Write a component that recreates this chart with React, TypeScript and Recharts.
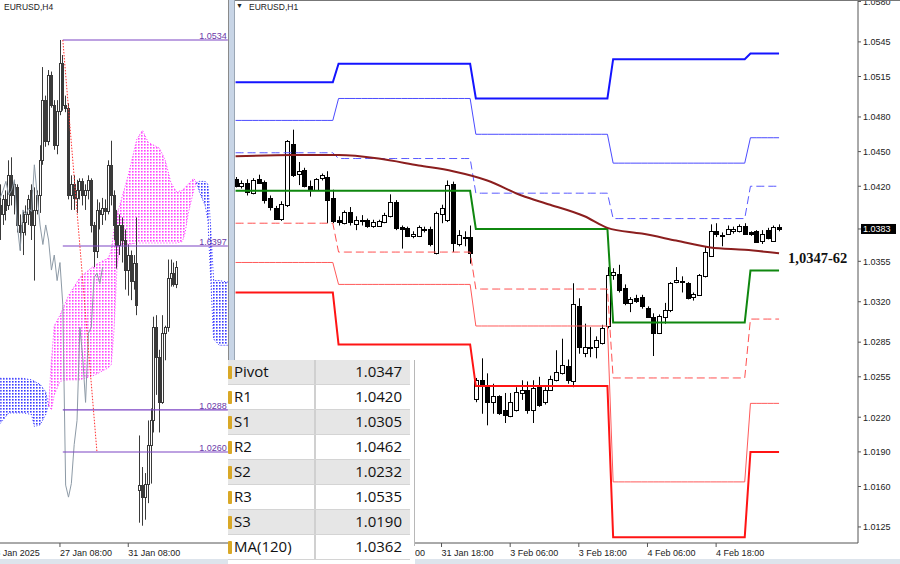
import React from "react";
import {
  ComposedChart,
  Bar,
  Line,
  Area,
  XAxis,
  YAxis,
  ReferenceLine,
} from "recharts";

const FONT = "'Liberation Sans', Arial, sans-serif";

// ---------- H1 panel (right) : 30 Jan 06:00 .. 5 Feb 05:00 ----------
const h1Open = [
  1.0426, 1.042, 1.0423, 1.0414, 1.0426, 1.0424, 1.041, 1.0401, 1.0392, 1.0404,
  1.0457, 1.0431, 1.0434, 1.042, 1.0417, 1.0427, 1.0428, 1.041, 1.0391, 1.0388,
  1.0398, 1.0387, 1.0391, 1.0391, 1.0386, 1.0386, 1.0389, 1.0394, 1.0406, 1.0385,
  1.0384, 1.0377, 1.0377, 1.0383, 1.0383, 1.0362, 1.0396, 1.0391, 1.0422, 1.037,
  1.0376, 1.0376, 1.0236, 1.0252, 1.0247, 1.0233, 1.0238, 1.0226, 1.0221, 1.0226,
  1.0241, 1.0244, 1.0226, 1.0246, 1.0233, 1.0244, 1.0252, 1.0258, 1.0264, 1.0251,
  1.0316, 1.0276, 1.0281, 1.0281, 1.0284, 1.0299, 1.0343, 1.0344, 1.0332, 1.0319,
  1.0323, 1.0324, 1.0315, 1.0307, 1.0293, 1.0307, 1.0313, 1.0337, 1.0338, 1.0336,
  1.0324, 1.0326, 1.0342, 1.036, 1.0381, 1.0378, 1.0379, 1.0381, 1.0381, 1.0386,
  1.038, 1.0381, 1.0373, 1.0382, 1.0373, 1.0385,
];
const h1High = [
  1.0428, 1.0425, 1.0426, 1.0427, 1.043, 1.0425, 1.0412, 1.0403, 1.0407, 1.046,
  1.0469, 1.0441, 1.0436, 1.0425, 1.0427, 1.0431, 1.0433, 1.0417, 1.0394, 1.0399,
  1.0402, 1.0394, 1.0395, 1.0392, 1.0391, 1.0391, 1.0397, 1.0413, 1.0408, 1.0386,
  1.0385, 1.0381, 1.0386, 1.0385, 1.0385, 1.0398, 1.0404, 1.0425, 1.0424, 1.0382,
  1.0381, 1.0386, 1.0254, 1.0271, 1.0258, 1.0249, 1.0239, 1.0241, 1.0241, 1.0246,
  1.0252, 1.0251, 1.0252, 1.0255, 1.0246, 1.0256, 1.0278, 1.0288, 1.027, 1.0336,
  1.0323, 1.0301, 1.0298, 1.029, 1.03, 1.035, 1.0349, 1.0352, 1.0335, 1.0324,
  1.0326, 1.0326, 1.0316, 1.031, 1.0309, 1.0319, 1.0337, 1.035, 1.0342, 1.0337,
  1.0328, 1.0344, 1.0368, 1.0387, 1.0388, 1.038, 1.0386, 1.0385, 1.0387, 1.0388,
  1.0381, 1.0382, 1.0382, 1.0384, 1.0386, 1.0387,
];
const h1Low = [
  1.0419, 1.0418, 1.0412, 1.0413, 1.0422, 1.0405, 1.0399, 1.0391, 1.039, 1.0402,
  1.0428, 1.0421, 1.0419, 1.0411, 1.0416, 1.0425, 1.0388, 1.0388, 1.0386, 1.0387,
  1.0386, 1.0382, 1.0386, 1.0384, 1.0384, 1.0385, 1.0388, 1.0393, 1.0382, 1.0366,
  1.0376, 1.0375, 1.0376, 1.038, 1.0368, 1.0361, 1.0388, 1.0389, 1.0363, 1.0368,
  1.0368, 1.0353, 1.0233, 1.0223, 1.0213, 1.0223, 1.0222, 1.0215, 1.022, 1.0225,
  1.0235, 1.0223, 1.0215, 1.0229, 1.0231, 1.0243, 1.0251, 1.0257, 1.0249, 1.0246,
  1.0275, 1.0272, 1.0272, 1.0271, 1.0283, 1.0297, 1.0339, 1.0328, 1.0317, 1.0311,
  1.0319, 1.0314, 1.0306, 1.0273, 1.0292, 1.0301, 1.0311, 1.0336, 1.0328, 1.0322,
  1.0321, 1.0325, 1.0341, 1.0359, 1.0376, 1.0368, 1.0378, 1.0379, 1.038, 1.0378,
  1.0377, 1.0371, 1.037, 1.0374, 1.0372, 1.0381,
];
const h1Close = [
  1.042, 1.0423, 1.0415, 1.0425, 1.0423, 1.0408, 1.0402, 1.0392, 1.0405, 1.0459,
  1.043, 1.0433, 1.042, 1.0418, 1.0426, 1.043, 1.0408, 1.039, 1.0389, 1.0398,
  1.0389, 1.0391, 1.039, 1.0386, 1.0389, 1.039, 1.0395, 1.0406, 1.0384, 1.0383,
  1.0377, 1.0379, 1.0385, 1.0382, 1.037, 1.0397, 1.0401, 1.0421, 1.0371, 1.0378,
  1.0375, 1.0362, 1.0252, 1.0247, 1.0233, 1.0238, 1.0224, 1.0222, 1.0233, 1.0242,
  1.0244, 1.0226, 1.0245, 1.0231, 1.0244, 1.0253, 1.0259, 1.0265, 1.0252, 1.0318,
  1.0281, 1.0281, 1.028, 1.0287, 1.0297, 1.0343, 1.0346, 1.033, 1.0319, 1.0322,
  1.0321, 1.0316, 1.0307, 1.0293, 1.0308, 1.0313, 1.0336, 1.0339, 1.0337, 1.0323,
  1.0327, 1.0343, 1.0363, 1.0381, 1.0379, 1.0377, 1.0383, 1.0383, 1.0386, 1.0379,
  1.0379, 1.0372, 1.0379, 1.0375, 1.0385, 1.0383,
];

// 30 Jan labels sit under the pivot table in the original, only these show
const h1TickIdx = [24, 36, 48, 60, 72, 84];
const h1TickLabels = [
  "31 Jan 06:00", "31 Jan 18:00", "3 Feb 06:00",
  "3 Feb 18:00", "4 Feb 06:00", "4 Feb 18:00",
];

// daily pivot levels (30 Jan, 31 Jan, 3 Feb, 4 Feb, 5 Feb)
const dayStart = [0, 18, 42, 66, 90];
const levelR3 = [1.051, 1.0526, 1.0496, 1.053, 1.0535];
const levelR2 = [1.0477, 1.0496, 1.0465, 1.044, 1.0462];
const levelR1 = [1.0449, 1.0444, 1.0414, 1.0392, 1.042];
const levelP = [1.0416, 1.0416, 1.0383, 1.0302, 1.0347];
const levelS1 = [1.0388, 1.0363, 1.0331, 1.0254, 1.0305];
const levelS2 = [1.0354, 1.0335, 1.0299, 1.0164, 1.0232];
const levelS3 = [1.0328, 1.0283, 1.0247, 1.0116, 1.019];

const maIdx = [0, 10, 18, 25, 32, 38, 44, 50, 55, 61, 65, 71, 77, 83, 89, 95];
const maVal = [
  1.0446, 1.0447, 1.0447, 1.0444, 1.0438, 1.0433, 1.0425, 1.0412,
  1.0404, 1.0394, 1.0384, 1.0379, 1.0373, 1.0367, 1.0365, 1.0362,
];

const priceTicks = [
  1.0125, 1.016, 1.019, 1.022, 1.0255, 1.0285, 1.032, 1.0355, 1.0383,
  1.042, 1.045, 1.048, 1.0515, 1.0545, 1.058,
];
const lastPrice = 1.0383;

const tableNames = ["Pivot", "R1", "S1", "R2", "S2", "R3", "S3", "MA(120)"];
const tableValues = ["1.0347", "1.0420", "1.0305", "1.0462", "1.0232", "1.0535", "1.0190", "1.0362"];

// ---------- H4 panel (left) ----------
const h4Open = [
  1.0424, 1.0418, 1.0428, 1.0424, 1.0444, 1.0431, 1.0436, 1.0411, 1.0406, 1.0413,
  1.0418, 1.0434, 1.0411, 1.0421, 1.0431, 1.0454, 1.0494, 1.0467, 1.0511, 1.0491,
  1.0464, 1.0487, 1.0519, 1.0491, 1.0489, 1.0431, 1.0438, 1.0429, 1.0434, 1.044,
  1.0431, 1.0434, 1.0441, 1.0411, 1.0394, 1.0421, 1.0418, 1.0422, 1.042, 1.0451,
  1.0431, 1.0411, 1.0398, 1.0411, 1.0401, 1.0381, 1.0391, 1.0374, 1.0386, 1.0235,
  1.0238, 1.023, 1.0239, 1.0265, 1.0281, 1.0343, 1.0323, 1.0293, 1.0339, 1.0343,
  1.0376, 1.0379, 1.0372,
];
const h4High = [
  1.0438, 1.0431, 1.0434, 1.0454, 1.0456, 1.0441, 1.0438, 1.0418, 1.042, 1.0424,
  1.0431, 1.0438, 1.0436, 1.0434, 1.0464, 1.0516, 1.0497, 1.0514, 1.0513, 1.0494,
  1.0494, 1.0534, 1.0524, 1.0497, 1.0492, 1.0444, 1.0444, 1.0441, 1.0442, 1.0442,
  1.0438, 1.0444, 1.0442, 1.0413, 1.0428, 1.0426, 1.0429, 1.0428, 1.0454, 1.0467,
  1.0434, 1.0421, 1.0418, 1.0416, 1.0408, 1.0398, 1.0394, 1.0391, 1.0416, 1.0271,
  1.025, 1.0246, 1.0281, 1.0289, 1.035, 1.0351, 1.0328, 1.0351, 1.0344, 1.0388,
  1.0388, 1.0386, 1.0387,
];
const h4Low = [
  1.0401, 1.0411, 1.0414, 1.0421, 1.0424, 1.0418, 1.0406, 1.0394, 1.0391, 1.0404,
  1.0411, 1.0401, 1.0374, 1.0418, 1.0419, 1.0451, 1.0463, 1.0464, 1.0489, 1.0461,
  1.0458, 1.0484, 1.0487, 1.0486, 1.0428, 1.0421, 1.0421, 1.0419, 1.0428, 1.0424,
  1.0421, 1.0428, 1.0406, 1.0383, 1.0389, 1.0408, 1.0411, 1.0414, 1.0418, 1.0424,
  1.0401, 1.0382, 1.0391, 1.0386, 1.0368, 1.0364, 1.0361, 1.0368, 1.0351, 1.0213,
  1.0211, 1.0215, 1.0226, 1.0239, 1.0273, 1.0298, 1.0273, 1.0292, 1.0321, 1.034,
  1.037, 1.037, 1.0369,
];
const h4Close = [
  1.0418, 1.0428, 1.0421, 1.0444, 1.0431, 1.0438, 1.0411, 1.0406, 1.0413, 1.0418,
  1.0428, 1.0411, 1.0421, 1.0431, 1.0454, 1.0494, 1.0467, 1.0511, 1.0491, 1.0464,
  1.0487, 1.0519, 1.0491, 1.0489, 1.0431, 1.0438, 1.0429, 1.0434, 1.044, 1.0431,
  1.0434, 1.0441, 1.0411, 1.0394, 1.0421, 1.0418, 1.0422, 1.042, 1.0451, 1.0431,
  1.0411, 1.0398, 1.0411, 1.0401, 1.0381, 1.0391, 1.0374, 1.0386, 1.0358, 1.0238,
  1.023, 1.0239, 1.0265, 1.0281, 1.0343, 1.0323, 1.0293, 1.0339, 1.0343, 1.0376,
  1.0379, 1.0372, 1.0383,
];
const h4LastIdx = 80;
const chikouShift = 26;

// ichimoku cloud outline (index, bottom, top)
const cloudBlue1J = [0, 3, 8, 11, 12, 14, 16, 17];
const cloudBlue1Top = [1.0309, 1.0309, 1.0309, 1.0308, 1.0307, 1.0305, 1.03, 1.0291];
const cloudBlue1Bot = [1.0279, 1.0286, 1.0286, 1.0285, 1.0277, 1.0278, 1.0285, 1.0291];
const cloudPinkJ = [17, 18, 19, 21, 24, 28, 33, 38, 39, 40, 41, 42, 45, 48, 50, 52, 56, 58, 60, 62, 64, 65, 66, 68, 69];
const cloudPinkTop = [
  1.0291, 1.0321, 1.0344, 1.0351, 1.0364, 1.0376, 1.0384, 1.0389, 1.0394, 1.0408,
  1.0418, 1.0424, 1.0444, 1.0468, 1.0474, 1.0466, 1.0462, 1.0454, 1.0439, 1.0433,
  1.0434, 1.0436, 1.0438, 1.0442, 1.0439,
];
const cloudPinkBot = [
  1.0291, 1.0288, 1.0298, 1.0307, 1.0308, 1.0308, 1.0311, 1.0316, 1.0318, 1.0341,
  1.0381, 1.0398, 1.0398, 1.0399, 1.0399, 1.0399, 1.0399, 1.0399, 1.0399, 1.0399,
  1.04, 1.0406, 1.0418, 1.0434, 1.0439,
];
const cloudBlue2J = [69, 70, 72, 73, 74, 75, 77, 80];
const cloudBlue2Top = [1.0439, 1.044, 1.044, 1.0438, 1.0408, 1.0374, 1.0374, 1.0373];
const cloudBlue2Bot = [1.0439, 1.0433, 1.0424, 1.0414, 1.0374, 1.0335, 1.0331, 1.0331];

const fiboLevels = [1.0534, 1.0397, 1.0288, 1.026];
const fiboFrom = 22;
const trendFrom = { j: 22, v: 1.0534 };
const trendTo = { j: 34, v: 1.026 };

const h4TickIdx = [-3.5, 21, 45];
const h4TickLabels = ["23 Jan 2025", "27 Jan 08:00", "31 Jan 08:00"];

// ---------- build tables ----------
const dayOf = (i: number) => {
  let d = 0;
  dayStart.forEach((s, k) => {
    if (i >= s) d = k;
  });
  return d;
};

const h1Data = h1Open.map((o, i) => {
  const d = dayOf(i);
  const m = maIdx.indexOf(i);
  return {
    i,
    o,
    h: h1High[i],
    l: h1Low[i],
    c: h1Close[i],
    range: [h1Low[i], h1High[i]],
    r3: levelR3[d],
    r2: levelR2[d],
    r1: levelR1[d],
    p: levelP[d],
    s1: levelS1[d],
    s2: levelS2[d],
    s3: levelS3[d],
    ma: m >= 0 ? maVal[m] : null,
  };
});

const band = (js: number[], bot: number[], top: number[], j: number) => {
  const k = js.indexOf(j);
  return k >= 0 ? [bot[k], top[k]] : null;
};

const h4Data = Array.from({ length: h4LastIdx + 1 }, (_, j) => {
  const has = j < h4Open.length;
  return {
    j,
    o: has ? h4Open[j] : null,
    h: has ? h4High[j] : null,
    l: has ? h4Low[j] : null,
    c: has ? h4Close[j] : null,
    range: has ? [h4Low[j], h4High[j]] : null,
    chikou: j + chikouShift < h4Close.length ? h4Close[j + chikouShift] : null,
    blue1: band(cloudBlue1J, cloudBlue1Bot, cloudBlue1Top, j),
    pink: band(cloudPinkJ, cloudPinkBot, cloudPinkTop, j),
    blue2: band(cloudBlue2J, cloudBlue2Bot, cloudBlue2Top, j),
  };
});

// ---------- shapes ----------
function Candle(props: any) {
  const { x, y, width, height, payload, bodyW, color } = props;
  if (!payload || payload.range == null) return null;
  const { o, h, l, c } = payload;
  const top = Math.min(y, y + height);
  const span = Math.abs(height);
  const k = span / Math.max(h - l, 1e-7);
  const py = (v: number) => top + (h - v) * k;
  const cx = Math.round(x + width / 2) + 0.5;
  const bTop = Math.round(py(Math.max(o, c))) + 0.5;
  const bBot = Math.max(bTop + 1, Math.round(py(Math.min(o, c))) + 0.5);
  const up = c >= o;
  return (
    <g>
      <line x1={cx} x2={cx} y1={top} y2={top + span} stroke={color} strokeWidth={1} />
      <rect
        x={cx - bodyW / 2}
        y={bTop}
        width={bodyW}
        height={bBot - bTop}
        fill={up ? "#fff" : color}
        stroke={color}
        strokeWidth={1}
      />
    </g>
  );
}

const makeTimeTick = (idx: number[], labels: string[]) => (p: any) => {
  const { x, y, payload } = p;
  const k = idx.indexOf(payload.value);
  if (k < 0) return null;
  return (
    <text x={x} y={y + 7} fontSize={9} fill="#222" fontFamily={FONT}>
      {labels[k]}
    </text>
  );
};

const PriceTick = (p: any) => {
  const { x, y, payload } = p;
  const v = payload.value;
  if (Math.abs(v - lastPrice) < 1e-6) {
    return (
      <g>
        <rect x={x - 2} y={y - 5} width={35} height={10} fill="#000" />
        <text x={x} y={y} dy={3.3} fontSize={9} fill="#fff" fontFamily={FONT}>
          {v.toFixed(4)}
        </text>
      </g>
    );
  }
  return (
    <text x={x} y={y} dy={3.3} fontSize={9} fill="#222" fontFamily={FONT}>
      {v.toFixed(4)}
    </text>
  );
};

const pivotLines = [
  { key: "r3", color: "#1414ff", w: 2, dash: undefined },
  { key: "r2", color: "#4b4bff", w: 1, dash: undefined },
  { key: "r1", color: "#5a5aff", w: 1, dash: "8 4" },
  { key: "p", color: "#0f870f", w: 2, dash: undefined },
  { key: "s1", color: "#ff5050", w: 1, dash: "8 4" },
  { key: "s2", color: "#ff5a5a", w: 1, dash: undefined },
  { key: "s3", color: "#ff1414", w: 2, dash: undefined },
];

export default function App() {
  return (
    <div
      style={{
        position: "absolute",
        left: 0,
        top: 0,
        width: 900,
        height: 564,
        background: "#fff",
        overflow: "hidden",
        fontFamily: FONT,
      }}
    >
      {/* left H4 panel */}
      <div style={{ position: "absolute", left: 0, top: 0 }}>
        <ComposedChart width={229} height={564} data={h4Data} margin={{ top: 0, right: 0, bottom: 0, left: 0 }}>
          <defs>
            <pattern id="pinkDots" width="3" height="3" patternUnits="userSpaceOnUse">
              <rect x="0" y="0" width="1.6" height="1.6" fill="#ff44ff" />
            </pattern>
            <pattern id="blueDots" width="3" height="3" patternUnits="userSpaceOnUse">
              <rect x="0" y="0" width="1.6" height="1.6" fill="#3a3aff" />
            </pattern>
          </defs>
          <XAxis
            type="number"
            dataKey="j"
            domain={[-0.07, 80.4]}
            allowDataOverflow
            ticks={h4TickIdx}
            interval={0}
            height={21}
            tickSize={4}
            axisLine={{ stroke: "#555" }}
            tickLine={{ stroke: "#555" }}
            tick={makeTimeTick(h4TickIdx, h4TickLabels)}
          />
          <YAxis hide domain={[1.01995, 1.05606]} allowDataOverflow />
          <Area dataKey="blue1" connectNulls type="linear" dot={false} activeDot={false} fill="url(#blueDots)" fillOpacity={1} stroke="#3a3aff" strokeDasharray="1 2" isAnimationActive={false} />
          <Area dataKey="pink" connectNulls type="linear" dot={false} activeDot={false} fill="url(#pinkDots)" fillOpacity={1} stroke="#ff33ff" strokeDasharray="1 2" isAnimationActive={false} />
          <Area dataKey="blue2" connectNulls type="linear" dot={false} activeDot={false} fill="url(#blueDots)" fillOpacity={1} stroke="#3a3aff" strokeDasharray="1 2" isAnimationActive={false} />
          <Line dataKey="chikou" stroke="#8d9aa6" strokeWidth={1} dot={false} activeDot={false} isAnimationActive={false} />
          <Bar dataKey="range" barSize={2} isAnimationActive={false} shape={(p: any) => <Candle {...p} bodyW={2} color="#3a3a3a" />} />
          {fiboLevels.map((v) => (
            <ReferenceLine
              key={v}
              segment={[{ x: fiboFrom, y: v }, { x: h4LastIdx, y: v }]}
              stroke="#7d45c4"
              strokeWidth={1.2}
              ifOverflow="visible"
              label={{ value: v.toFixed(4), position: "insideBottomRight", fill: "#6a3aa8", fontSize: 9, offset: 1 }}
            />
          ))}
          <ReferenceLine
            segment={[{ x: trendFrom.j, y: trendFrom.v }, { x: trendTo.j, y: trendTo.v }]}
            stroke="#ff3030"
            strokeDasharray="1.5 1.5"
            ifOverflow="visible"
          />
        </ComposedChart>
      </div>
      <div style={{ position: "absolute", left: 4, top: 2, fontSize: 8.5, color: "#222" }}>EURUSD,H4</div>
      <div style={{ position: "absolute", left: 228, top: 0, width: 1, height: 544, background: "#8a8a8a" }} />

      {/* right H1 panel */}
      <div style={{ position: "absolute", left: 232, top: 0 }}>
        <ComposedChart width={668} height={564} data={h1Data} margin={{ top: 1, right: 0, bottom: 0, left: 3 }}>
          <XAxis
            type="number"
            dataKey="i"
            domain={[-0.1, 108.8]}
            allowDataOverflow
            ticks={h1TickIdx}
            interval={0}
            height={21}
            tickSize={4}
            axisLine={{ stroke: "#555" }}
            tickLine={{ stroke: "#555" }}
            tick={makeTimeTick(h1TickIdx, h1TickLabels)}
          />
          <YAxis
            orientation="right"
            width={42}
            domain={[1.01111, 1.05804]}
            allowDataOverflow
            ticks={priceTicks}
            interval={0}
            tickSize={3}
            axisLine={{ stroke: "#555" }}
            tickLine={{ stroke: "#555" }}
            tick={PriceTick}
          />
          {pivotLines.map((pl) => (
            <Line
              key={pl.key}
              dataKey={pl.key}
              type="linear"
              stroke={pl.color}
              strokeWidth={pl.w}
              strokeDasharray={pl.dash}
              dot={false}
              activeDot={false}
              isAnimationActive={false}
            />
          ))}
          <Line dataKey="ma" type="monotone" connectNulls stroke="#8b1e1e" strokeWidth={2} dot={false} activeDot={false} isAnimationActive={false} />
          <Bar dataKey="range" barSize={4} isAnimationActive={false} shape={(p: any) => <Candle {...p} bodyW={4} color="#000" />} />
        </ComposedChart>
      </div>
      <div style={{ position: "absolute", left: 232, top: 0, width: 668, height: 1, background: "#777" }} />
      <div style={{ position: "absolute", left: 229, top: 0, width: 5, height: 564, background: "#c8d5e6" }} />
      <div style={{ position: "absolute", left: 234, top: 0, width: 1, height: 544, background: "#9aa6b4" }} />
      <div style={{ position: "absolute", left: 236, top: 2, fontSize: 7, color: "#222" }}>▼</div>
      <div style={{ position: "absolute", left: 249, top: 2, fontSize: 8.5, color: "#222" }}>EURUSD,H1</div>
      <div
        style={{
          position: "absolute",
          left: 788,
          top: 250,
          fontFamily: "'Liberation Serif', 'Times New Roman', serif",
          fontWeight: "bold",
          fontSize: 14.5,
          color: "#111",
        }}
      >
        1,0347-62
      </div>

      {/* bottom strip */}
      <div style={{ position: "absolute", left: 0, top: 559, width: 900, height: 5, background: "#dde4ec" }} />

      {/* pivot table */}
      <div style={{ position: "absolute", left: 228, top: 360, width: 187, height: 204, background: "#fff" }}>
        {tableNames.map((n, k) => (
          <div
            key={n}
            style={{
              position: "absolute",
              left: 0,
              top: k * 25,
              width: 182,
              height: 24,
              background: k % 2 === 0 ? "#e6e6e6" : "#fff",
              borderBottom: "1px solid #d4d4d4",
              fontFamily: "'Open Sans', 'Noto Sans', sans-serif",
              fontSize: 15,
              color: "#111",
            }}
          >
            <div style={{ position: "absolute", left: 0, top: 6, width: 4, height: 13, background: "#d9a826", borderRadius: 1 }} />
            <div style={{ position: "absolute", left: 6, top: 1 }}>{n}</div>
            <div style={{ position: "absolute", left: 86, top: 0, width: 2, height: 24, background: "#d0d0d0" }} />
            <div style={{ position: "absolute", right: 8, top: 1 }}>{tableValues[k]}</div>
          </div>
        ))}
        <div style={{ position: "absolute", left: 186, top: 0, width: 1, height: 186, background: "#b8b8b8" }} />
      </div>
    </div>
  );
}
